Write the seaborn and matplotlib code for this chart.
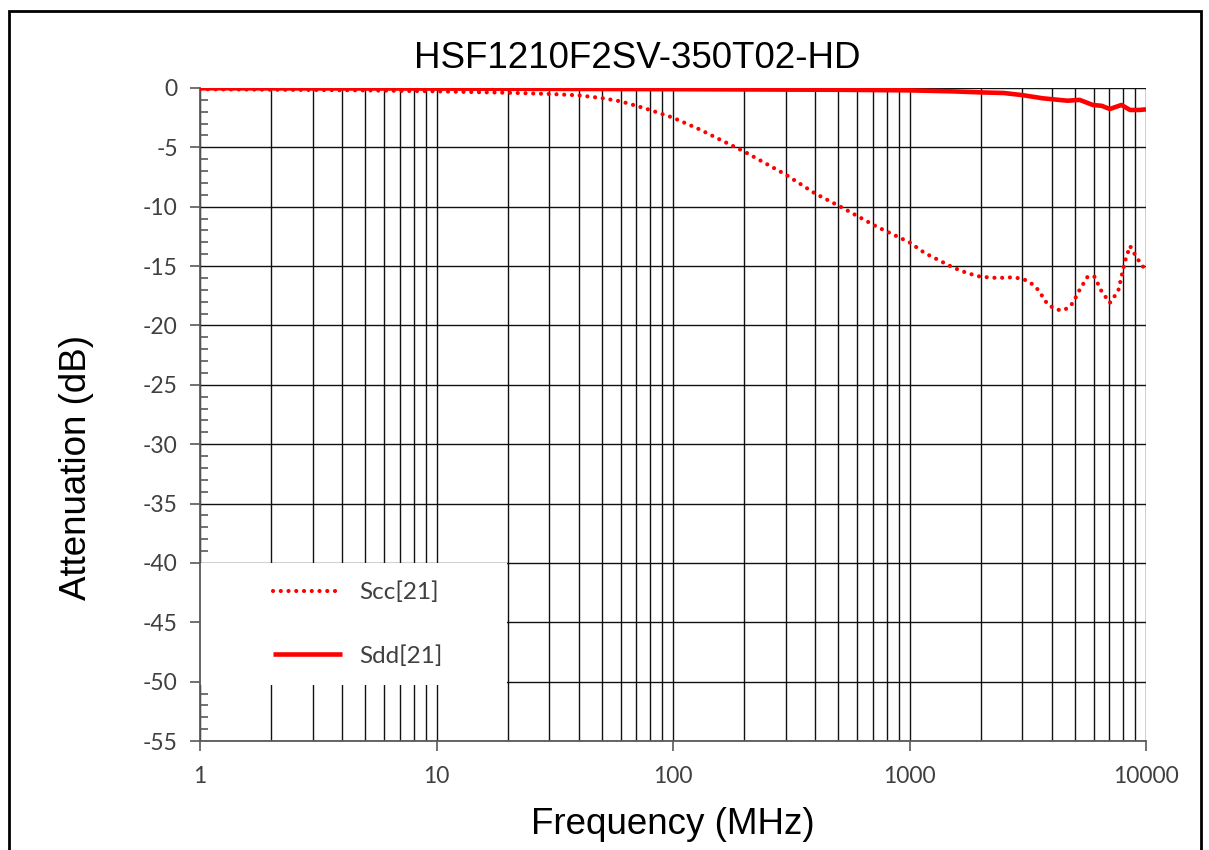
import numpy as np
import pandas as pd
import matplotlib
matplotlib.use("Agg")
import matplotlib.pyplot as plt
import matplotlib.patches as mpatches
from matplotlib.ticker import LogLocator, FixedLocator, NullFormatter, FixedFormatter
import seaborn as sns

# ---- data ----
scc_freq = [1, 5, 10, 20, 30, 40, 50, 60, 70, 80, 100, 130, 160, 200, 300, 400, 500,
            730, 1000, 1160, 1330, 1520, 1760, 2000, 2350, 2700, 3000, 3250, 3500,
            3860, 4350, 4680, 4910, 5240, 5680, 6060, 6480, 7030, 7630, 8150, 8560,
            9140, 10000]
scc_db = [-0.1, -0.2, -0.28, -0.4, -0.5, -0.62, -0.85, -1.12, -1.5, -1.85, -2.5,
          -3.5, -4.4, -5.35, -7.3, -8.9, -9.9, -11.7, -13.0, -13.9, -14.5, -15.1,
          -15.6, -15.9, -16.0, -15.95, -16.05, -16.4, -17.0, -18.3, -18.75, -18.55,
          -18.1, -17.0, -15.85, -15.9, -17.1, -18.1, -17.1, -14.6, -13.3, -14.3, -15.4]

sdd_freq = [1, 10, 100, 500, 1000, 1500, 2000, 2500, 3000, 3670, 4650, 5240, 5960,
            6500, 7030, 7870, 8560, 9380, 10000]
sdd_db = [-0.02, -0.05, -0.1, -0.15, -0.2, -0.28, -0.37, -0.42, -0.6, -0.87, -1.07,
          -1.0, -1.43, -1.5, -1.77, -1.43, -1.85, -1.85, -1.8]

x_ticks = [1, 10, 100, 1000, 10000]
x_tick_labels = ["1", "10", "100", "1000", "10000"]
y_ticks = list(range(0, -60, -5))
y_tick_labels = [str(v) for v in y_ticks]

title = "HSF1210F2SV-350T02-HD"
x_label = "Frequency (MHz)"
y_label = "Attenuation (dB)"
legend_labels = ["Scc[21]", "Sdd[21]"]

scc_df = pd.DataFrame({"freq": scc_freq, "db": scc_db})
sdd_df = pd.DataFrame({"freq": sdd_freq, "db": sdd_db})

# ---- style ----
sns.set_theme(style="white")
plt.rcParams["font.family"] = ["Liberation Sans", "DejaVu Sans"]

W, H = 1209, 850
fig = plt.figure(figsize=(W / 100, H / 100), dpi=100)
fig.patch.set_facecolor("white")

ax = fig.add_axes([200 / W, 1 - 741 / H, 946 / W, 653 / H])
ax.set_facecolor("white")
ax.set_axisbelow(True)

red = "#FF0000"
sns.lineplot(data=scc_df, x="freq", y="db", ax=ax, color=red, lw=3.0,
             linestyle=(0, (0.01, 1.85)), dash_capstyle="round",
             sort=False, estimator=None, label=legend_labels[0], zorder=3)
sns.lineplot(data=sdd_df, x="freq", y="db", ax=ax, color=red, lw=3.3,
             sort=False, estimator=None, label=legend_labels[1], zorder=3,
             solid_capstyle="butt")

ax.set_xscale("log")
ax.set_xlim(1, 10000)
ax.set_ylim(-55, 0)

# x ticks / grid
ax.xaxis.set_major_locator(FixedLocator(x_ticks))
ax.xaxis.set_major_formatter(FixedFormatter(x_tick_labels))
ax.xaxis.set_minor_locator(LogLocator(base=10, subs=np.arange(2, 10), numticks=20))
ax.xaxis.set_minor_formatter(NullFormatter())
ax.grid(True, which="both", axis="x", color="#111111", lw=1.0)
ax.grid(True, which="major", axis="y", color="#111111", lw=1.0)

# y ticks
ax.yaxis.set_major_locator(FixedLocator(y_ticks))
ax.yaxis.set_major_formatter(FixedFormatter(y_tick_labels))
ax.yaxis.set_minor_locator(FixedLocator(list(range(0, -56, -1))))

ax.tick_params(axis="x", which="major", direction="out", length=7, width=1.2,
               color="#595959", pad=11, bottom=True, labelsize=16.5,
               labelcolor="#404040", labelfontfamily="Lato")
ax.tick_params(axis="x", which="minor", length=0)
ax.tick_params(axis="y", which="major", direction="out", length=7, width=1.2,
               color="#595959", pad=9, left=True, labelsize=16.5,
               labelcolor="#404040", labelfontfamily="Lato")
ax.tick_params(axis="y", which="minor", direction="in", length=5.5, width=1.2,
               color="#595959", left=True)

for s in ["top", "right"]:
    ax.spines[s].set_visible(False)
for s in ["left", "bottom"]:
    ax.spines[s].set_visible(True)
    ax.spines[s].set_color("#595959")
    ax.spines[s].set_linewidth(1.3)

ax.set_xlabel("")
ax.set_ylabel("")

# white legend area covering gridlines
ax.add_patch(mpatches.Rectangle((0, 56 / 653), 307 / 946, 122 / 653,
                                transform=ax.transAxes, facecolor="white",
                                edgecolor="none", zorder=1))

leg = ax.legend(loc="center left", bbox_to_anchor=(72.7 / 946, (741 - 624) / 653),
                frameon=False, borderpad=0, borderaxespad=0, handlelength=2.85,
                handletextpad=0.72, labelspacing=1.72,
                prop={"family": ["Lato", "DejaVu Sans"], "size": 17.5})
for t in leg.get_texts():
    t.set_color("#404040")

# titles / labels as figure text
fig.text(637.5 / W, 1 - 67.7 / H, title, ha="center", va="baseline",
         fontsize=26.5, color="black")
fig.text(673 / W, 1 - 834 / H, x_label, ha="center", va="baseline",
         fontsize=26.5, color="black")
fig.text(77 / W, 1 - 467 / H, y_label, ha="center", va="center", rotation=90,
         fontsize=26.5, color="black")

# outer frame
fig.add_artist(mpatches.Rectangle((8.7 / W, -0.05), (1200.5 - 8.7) / W, 1.05 - 10.7 / H,
                                  transform=fig.transFigure, facecolor="none",
                                  edgecolor="black", lw=2.0))

fig.savefig("out.png", dpi=100, facecolor="white")
